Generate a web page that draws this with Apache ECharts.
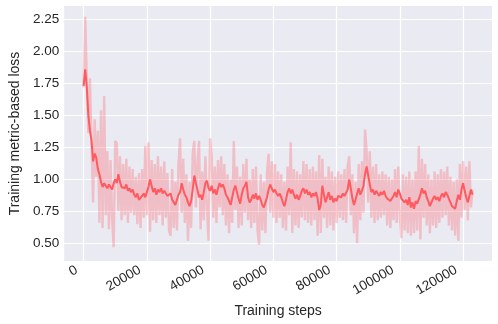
<!DOCTYPE html>
<html>
<head>
<meta charset="utf-8">
<script src="https://cdn.jsdelivr.net/npm/echarts@6/dist/echarts.min.js"></script>
<style>
  html, body { margin: 0; padding: 0; background: #fff; }
  #main { width: 498px; height: 324px; }
</style>
</head>
<body>
<div id="main"></div>
<script>
// logged every 500 training steps, starting at step 0
const stepSize = 500;

// raw (unsmoothed) loss
const rawLoss = [
  1.72, 2.27, 1.78, 1.36, 1.79, 1.30, 0.82, 1.47, 1.02, 1.38,
  0.66, 1.54, 0.62, 1.65, 0.72, 1.22, 0.61, 1.15, 0.70, 0.47,
  1.30, 1.28, 0.75, 1.18, 0.68, 1.12, 0.72, 1.16, 0.66, 1.10,
  0.74, 1.08, 0.72, 1.02, 0.65, 1.05, 0.62, 1.08, 0.70, 1.26,
  0.72, 1.29, 0.59, 1.15, 0.68, 1.12, 0.66, 1.18, 0.72, 1.10,
  0.64, 1.14, 0.70, 1.05, 0.60, 0.56, 1.08, 0.62, 0.98, 0.60,
  1.12, 1.32, 0.74, 1.16, 0.66, 1.04, 0.52, 0.98, 0.62, 1.20,
  1.30, 0.78, 1.14, 1.30, 0.61, 1.06, 0.68, 1.18, 0.76, 0.52,
  1.32, 1.18, 0.70, 1.10, 0.66, 1.15, 0.78, 1.18, 0.72, 1.12,
  0.64, 1.04, 0.58, 1.00, 0.66, 1.30, 0.76, 1.10, 0.62, 1.02,
  0.64, 1.12, 0.74, 1.16, 0.68, 1.00, 0.62, 1.08, 0.66, 1.10,
  0.60, 0.49, 1.04, 0.60, 0.98, 0.58, 1.05, 1.20, 0.74, 1.14,
  0.70, 1.12, 0.66, 1.06, 0.70, 1.04, 0.62, 0.98, 0.60, 1.10,
  0.72, 1.29, 0.58, 1.08, 0.64, 1.06, 0.62, 1.04, 0.70, 1.14,
  0.68, 1.12, 0.66, 1.08, 0.64, 1.10, 0.68, 1.06, 0.56, 1.19,
  0.58, 1.16, 0.70, 1.02, 0.62, 1.10, 0.64, 1.06, 0.60, 1.02,
  0.66, 1.06, 0.70, 1.04, 0.68, 1.08, 0.66, 1.10, 1.18, 0.72,
  1.04, 0.58, 0.98, 0.50, 1.12, 0.68, 1.14, 0.74, 1.39, 1.22,
  0.82, 1.22, 0.70, 1.10, 0.66, 1.12, 0.68, 1.04, 0.70, 1.06,
  0.72, 1.04, 0.64, 1.02, 0.62, 1.00, 0.68, 1.08, 0.66, 1.10,
  0.72, 0.54, 1.04, 0.60, 1.02, 0.58, 1.06, 0.56, 1.00, 0.58,
  1.06, 0.60, 1.26, 0.53, 1.16, 0.70, 1.12, 0.64, 1.04, 0.58,
  1.00, 0.64, 1.06, 0.62, 1.04, 0.66, 1.08, 0.70, 1.06, 0.72,
  1.10, 0.64, 1.02, 0.60, 0.98, 0.56, 1.00, 0.52, 1.12, 0.70,
  1.14, 0.76, 1.10, 0.68, 1.14, 0.78, 0.92
];

// smoothed loss
const smoothLoss = [
  1.73, 1.86, 1.72, 1.50, 1.38, 1.30, 1.14, 1.20, 1.17, 1.08,
  1.04, 0.98, 0.94, 0.97, 0.95, 0.93, 0.96, 0.94, 0.92, 0.97,
  1.00, 0.97, 1.04, 0.98, 0.94, 0.95, 0.93, 0.96, 0.91, 0.93,
  0.90, 0.92, 0.88, 0.86, 0.89, 0.84, 0.83, 0.87, 0.89, 0.86,
  0.90, 0.94, 1.00, 0.95, 0.90, 0.93, 0.88, 0.92, 0.90, 0.93,
  0.89, 0.91, 0.90, 0.87, 0.86, 0.89, 0.84, 0.82, 0.80, 0.84,
  0.88, 0.90, 0.97, 0.92, 0.88, 0.86, 0.82, 0.79, 0.83, 0.92,
  1.03, 0.97, 0.92, 0.86, 0.88, 0.84, 0.90, 0.97, 0.99, 0.93,
  0.91, 0.95, 0.89, 0.92, 0.88, 0.93, 0.97, 0.94, 0.96, 0.93,
  0.88, 0.86, 0.83, 0.80, 0.86, 0.92, 0.95, 0.90, 0.85, 0.81,
  0.88, 0.93, 0.95, 0.98, 0.86, 0.82, 0.84, 0.88, 0.85, 0.89,
  0.84, 0.87, 0.84, 0.80, 0.78, 0.82, 0.86, 0.92, 0.96, 0.93,
  0.90, 0.92, 0.89, 0.87, 0.89, 0.86, 0.82, 0.79, 0.84, 0.90,
  0.93, 0.89, 0.92, 0.88, 0.85, 0.88, 0.84, 0.87, 0.91, 0.93,
  0.89, 0.92, 0.88, 0.90, 0.86, 0.89, 0.87, 0.90, 0.85, 0.76,
  0.80, 0.95, 0.88, 0.82, 0.86, 0.90, 0.84, 0.87, 0.82, 0.85,
  0.83, 0.87, 0.88, 0.86, 0.89, 0.87, 0.88, 0.92, 1.00, 0.93,
  0.85, 0.80, 0.84, 0.89, 0.93, 0.88, 0.91, 0.95, 1.04, 1.10,
  1.03, 0.96, 0.90, 0.92, 0.88, 0.91, 0.89, 0.87, 0.90, 0.88,
  0.91, 0.87, 0.85, 0.86, 0.83, 0.84, 0.87, 0.90, 0.86, 0.92,
  0.89, 0.85, 0.86, 0.82, 0.84, 0.80, 0.86, 0.78, 0.82, 0.77,
  0.83, 0.81, 0.82, 0.88, 0.93, 0.89, 0.91, 0.86, 0.83, 0.79,
  0.82, 0.85, 0.87, 0.84, 0.86, 0.83, 0.87, 0.89, 0.86, 0.90,
  0.88, 0.85, 0.82, 0.79, 0.80, 0.77, 0.83, 0.88, 0.84, 0.92,
  0.97, 0.91, 0.86, 0.82, 0.87, 0.92, 0.88
];

const xTicks = [0, 20000, 40000, 60000, 80000, 100000, 120000];
const yTicks = [0.50, 0.75, 1.00, 1.25, 1.50, 1.75, 2.00, 2.25];

const textColor = '#262626';
const font = 'Liberation Sans, Arial, sans-serif';

function toPairs(arr) {
  return arr.map((v, i) => [i * stepSize, v]);
}

let chart = echarts.init(document.getElementById('main'), null, { renderer: 'canvas' });

let option = {
  animation: false,
  backgroundColor: '#fff',
  grid: {
    left: 55,
    right: 6,
    top: 6,
    bottom: 63,
    show: true,
    backgroundColor: '#EAEAF2',
    borderWidth: 0
  },
  xAxis: {
    type: 'value',
    min: -6150,
    max: 129150,
    name: 'Training steps',
    nameLocation: 'middle',
    nameGap: 42,
    nameTextStyle: { color: textColor, fontSize: 14, fontFamily: font },
    axisLine: { show: false },
    axisTick: { show: false, customValues: xTicks },
    axisLabel: {
      customValues: xTicks,
      rotate: 30,
      margin: 4,
      padding: [0, 8, 0, 0],
      color: textColor,
      fontSize: 13.5,
      fontFamily: font,
      formatter: v => String(v)
    },
    splitLine: { show: true, lineStyle: { color: '#fff', width: 1.2 } }
  },
  yAxis: {
    type: 'value',
    min: 0.362,
    max: 2.354,
    name: 'Training metric-based loss',
    nameLocation: 'middle',
    nameGap: 34,
    nameTextStyle: { color: textColor, fontSize: 14, fontFamily: font },
    axisLine: { show: false },
    axisTick: { show: false, customValues: yTicks },
    axisLabel: {
      customValues: yTicks,
      margin: 5,
      color: textColor,
      fontSize: 13.5,
      fontFamily: font,
      formatter: v => v.toFixed(2)
    },
    splitLine: { show: true, lineStyle: { color: '#fff', width: 1.2 } }
  },
  series: [
    {
      name: 'raw',
      type: 'line',
      data: toPairs(rawLoss),
      showSymbol: false,
      lineStyle: { color: '#FF5A5F', width: 2.4, opacity: 0.3 },
      z: 2
    },
    {
      name: 'smoothed',
      type: 'line',
      data: toPairs(smoothLoss),
      showSymbol: false,
      lineStyle: { color: '#FF5A5F', width: 2 },
      z: 3
    }
  ]
};

chart.setOption(option);
</script>
</body>
</html>
